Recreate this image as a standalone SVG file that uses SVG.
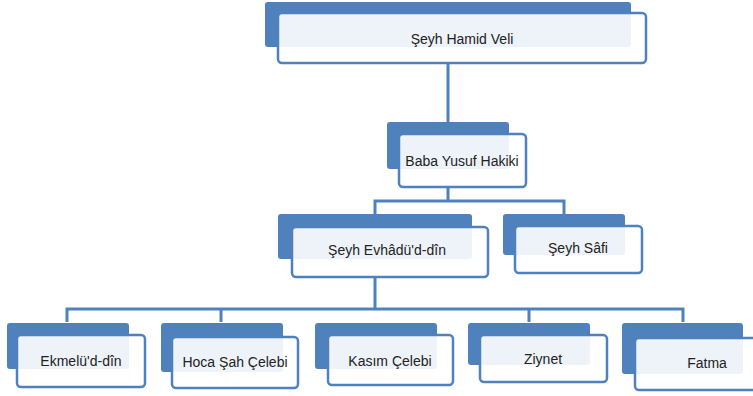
<svg xmlns="http://www.w3.org/2000/svg" width="753" height="396" viewBox="0 0 753 396">
<style>
.back{fill:#4F81BD}
.front{fill:#ffffff;fill-opacity:0.9;stroke:#4F81BD;stroke-width:2.5}
.conn{fill:none;stroke:#4F81BD;stroke-width:3}
text{font-family:"Liberation Sans",Arial,sans-serif;font-size:14px;fill:#222;text-anchor:middle}
</style>
<rect width="753" height="396" fill="#ffffff"/>
<g id="connectors">
<path class="conn" d="M448 63V122"/>
<path class="conn" d="M448 187V201M375 214V201H564V214"/>
<path class="conn" d="M375 277V309M67 322V309H683V322M221 309V322M529 309V322"/>
</g>
<g id="n1"><rect class="back" x="265" y="2" width="366" height="45" rx="3"/><rect class="front" x="278" y="13" width="368" height="50" rx="4"/><text x="462" y="44">Şeyh Hamid Veli</text></g>
<g id="n2"><rect class="back" x="387" y="122" width="122" height="47" rx="3"/><rect class="front" x="399" y="134" width="127" height="53" rx="4"/><text x="462" y="166">Baba Yusuf Hakiki</text></g>
<g id="n3"><rect class="back" x="278" y="214" width="194" height="45" rx="3"/><rect class="front" x="292" y="227" width="196" height="50" rx="4"/><text x="387" y="255">Şeyh Evhâdü'd-dîn</text></g>
<g id="n4"><rect class="back" x="503" y="214" width="122" height="41" rx="3"/><rect class="front" x="515" y="226" width="127" height="47" rx="4"/><text x="578" y="253">Şeyh Sâfi</text></g>
<g id="n5"><rect class="back" x="7" y="323" width="122" height="46" rx="3"/><rect class="front" x="17" y="335" width="128" height="52" rx="4"/><text x="81" y="366">Ekmelü'd-dîn</text></g>
<g id="n6"><rect class="back" x="161" y="323" width="122" height="49" rx="3"/><rect class="front" x="172" y="337" width="126" height="51" rx="4"/><text x="235" y="367">Hoca Şah Çelebi</text></g>
<g id="n7"><rect class="back" x="315" y="323" width="122" height="46" rx="3"/><rect class="front" x="328" y="335" width="125" height="50" rx="4"/><text x="390" y="366">Kasım Çelebi</text></g>
<g id="n8"><rect class="back" x="468" y="323" width="122" height="42" rx="3"/><rect class="front" x="480" y="335" width="127" height="47" rx="4"/><text x="543" y="364">Ziynet</text></g>
<g id="n9"><rect class="back" x="622" y="323" width="121" height="51" rx="3"/><rect class="front" x="635" y="338" width="125" height="52" rx="4"/><text x="707" y="368">Fatma</text></g>
</svg>
